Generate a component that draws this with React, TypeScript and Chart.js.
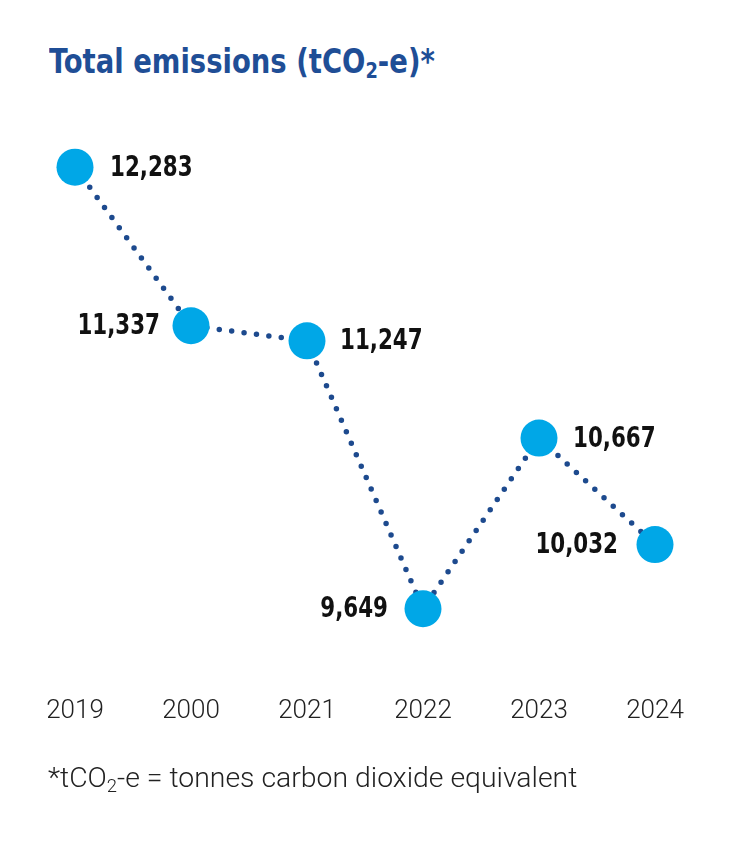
import React, { useEffect, useRef } from "react";
import { Chart, registerables } from "chart.js";

Chart.register(...registerables);

const years = ["2019", "2000", "2021", "2022", "2023", "2024"];
const emissions = [12283, 11337, 11247, 9649, 10667, 10032];
const valueLabels = ["12,283", "11,337", "11,247", "9,649", "10,667", "10,032"];
const labelSide = ["right", "left", "right", "left", "right", "left"];
const labelGap = [35, 31, 33, 35, 34, 37];

const TITLE_BLUE = "#1f4e96";
const POINT_BLUE = "#00a7e7";
const LINE_BLUE = "#1d4a8e";
const COND = '"DejaVu Sans Condensed", "DejaVu Sans", sans-serif';
const LIGHT = 'Roboto, "DejaVu Sans", sans-serif';

const valueLabelPlugin = {
  id: "valueLabels",
  afterDatasetsDraw(chart: any) {
    const ctx = chart.ctx;
    const meta = chart.getDatasetMeta(0);
    const sx = 0.82;
    ctx.save();
    ctx.font = `bold 29px ${COND}`;
    ctx.fillStyle = "#111111";
    ctx.textBaseline = "middle";
    meta.data.forEach((pt: any, i: number) => {
      const right = labelSide[i] === "right";
      ctx.textAlign = right ? "left" : "right";
      const x = right ? pt.x + labelGap[i] : pt.x - labelGap[i];
      ctx.save();
      ctx.translate(x, pt.y + 1);
      ctx.scale(sx, 1);
      ctx.fillText(valueLabels[i], 0, 0);
      ctx.restore();
    });
    ctx.restore();
  },
};

export default function App() {
  const ref = useRef<HTMLCanvasElement>(null);
  useEffect(() => {
    if (!ref.current) return;
    const chart = new Chart(ref.current, {
      type: "line",
      data: {
        labels: years,
        datasets: [
          {
            data: emissions,
            borderColor: LINE_BLUE,
            borderWidth: 5.5,
            borderDash: [0, 12.5],
            borderCapStyle: "round",
            pointRadius: 18.5,
            pointHoverRadius: 18.5,
            pointBackgroundColor: POINT_BLUE,
            pointBorderWidth: 0,
            tension: 0,
            clip: false as any,
          },
        ],
      },
      options: {
        animation: false,
        responsive: true,
        maintainAspectRatio: false,
        layout: { padding: { left: 75, right: 83, top: 30.8, bottom: 16.3 } },
        plugins: { legend: { display: false }, tooltip: { enabled: false } },
        scales: {
          y: { display: false, min: 9400, max: 12500 },
          x: {
            offset: false,
            grid: { display: false, drawTicks: false },
            border: { display: false },
            ticks: {
              padding: 45,
              color: "#222222",
              font: { family: LIGHT, size: 26, weight: 300 as any },
            },
          },
        },
      },
      plugins: [valueLabelPlugin],
    });
    return () => chart.destroy();
  }, []);

  return (
    <div style={{ position: "absolute", left: 0, top: 0, width: 738, height: 850, background: "#fff" }}>
      <div
        style={{
          position: "absolute",
          left: 49,
          top: 41.6,
          fontFamily: COND,
          fontWeight: "bold",
          fontSize: 33,
          lineHeight: "40px",
          color: TITLE_BLUE,
          whiteSpace: "nowrap",
          transform: "scaleX(0.925)",
          transformOrigin: "left top",
        }}
      >
        Total emissions (tCO<sub style={{ fontSize: "0.65em", verticalAlign: "-0.25em", lineHeight: 0 }}>2</sub>-e)*
      </div>
      <div style={{ position: "absolute", left: 0, top: 100, width: 738, height: 688 }}>
        <canvas ref={ref} />
      </div>
      <div
        style={{
          position: "absolute",
          left: 48,
          top: 760,
          fontFamily: LIGHT,
          fontWeight: 300,
          fontSize: 28.4,
          lineHeight: "36px",
          color: "#222222",
          whiteSpace: "nowrap",
        }}
      >
        *tCO<sub style={{ fontSize: "0.65em", verticalAlign: "-0.25em", lineHeight: 0 }}>2</sub>-e = tonnes carbon dioxide equivalent
      </div>
    </div>
  );
}
